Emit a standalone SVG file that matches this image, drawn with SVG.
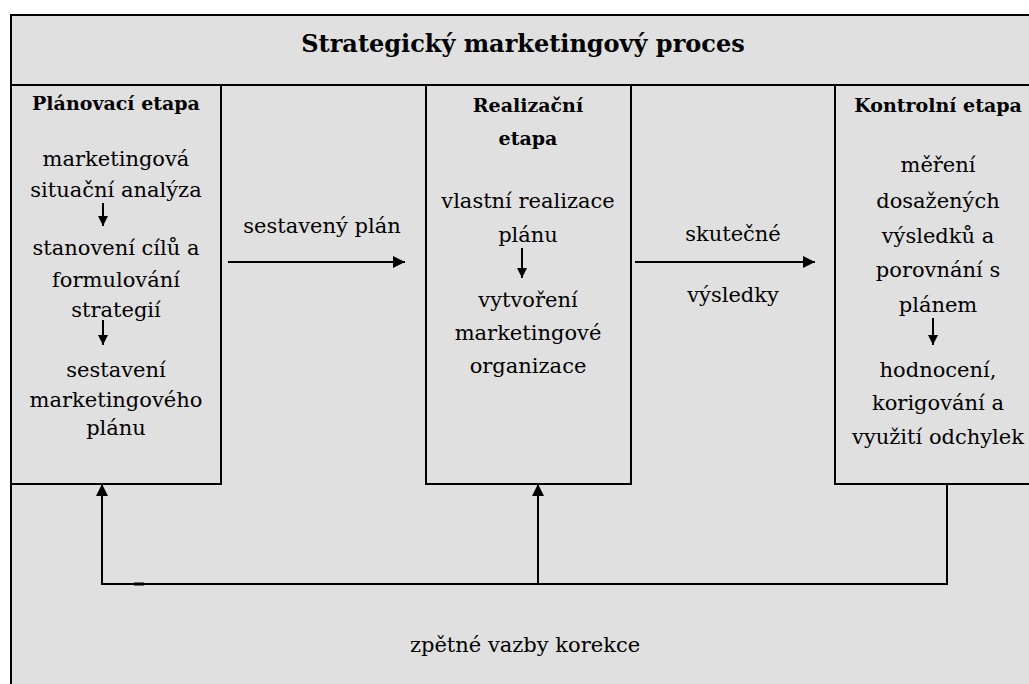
<svg xmlns="http://www.w3.org/2000/svg" width="1029" height="684" viewBox="0 0 1029 684">
<style>
text{font-family:'DejaVu Serif',serif}
.t{font-size:21px;fill:#000;text-anchor:middle}
.b{font-weight:bold;font-size:19px}
.h{font-weight:bold;font-size:24px}
.box{fill:#e0e0e0;stroke:#000;stroke-width:2}
.ln{fill:none;stroke:#000;stroke-width:2}
</style>
<defs>
<marker id="ah" viewBox="0 0 10 10" refX="10" refY="5" markerWidth="6" markerHeight="6" markerUnits="strokeWidth" orient="auto">
<path d="M0,0 L10,5 L0,10 z" fill="#000"/>
</marker>
<marker id="sa" viewBox="0 0 10 10" refX="10" refY="5" markerWidth="6" markerHeight="5" markerUnits="strokeWidth" orient="auto">
<path d="M0,0 L10,5 L0,10 z" fill="#000"/>
</marker>
</defs>
<rect x="0" y="0" width="1029" height="684" fill="#fff"/>
<g id="frame">
<rect class="box" x="11" y="15" width="1040" height="700"/>
<line class="ln" x1="11" y1="85" x2="1029" y2="85"/>
<text class="t h" x="523" y="52">Strategický marketingový proces</text>
<text class="t" x="525" y="652">zpětné vazby korekce</text>
</g>
<g id="planovaci">
<rect class="box" x="11" y="85" width="210" height="399"/>
<text class="t b" x="116" y="110">Plánovací etapa</text>
<text class="t" x="116" y="166">marketingová</text>
<text class="t" x="116" y="197">situační analýza</text>
<text class="t" x="116" y="255">stanovení cílů a</text>
<text class="t" x="116" y="287">formulování</text>
<text class="t" x="116" y="317">strategií</text>
<text class="t" x="116" y="377">sestavení</text>
<text class="t" x="116" y="407">marketingového</text>
<text class="t" x="116" y="435">plánu</text>
<line class="ln" x1="103" y1="203" x2="103" y2="226" marker-end="url(#sa)"/>
<line class="ln" x1="103" y1="320" x2="103" y2="345" marker-end="url(#sa)"/>
</g>
<g id="realizacni">
<rect class="box" x="426" y="85" width="205" height="399"/>
<text class="t b" x="528" y="112">Realizační</text>
<text class="t b" x="528" y="145">etapa</text>
<text class="t" x="528" y="208">vlastní realizace</text>
<text class="t" x="528" y="242">plánu</text>
<text class="t" x="528" y="307">vytvoření</text>
<text class="t" x="528" y="340">marketingové</text>
<text class="t" x="528" y="373">organizace</text>
<line class="ln" x1="522" y1="248" x2="522" y2="278" marker-end="url(#sa)"/>
</g>
<g id="kontrolni">
<rect class="box" x="835" y="85" width="220" height="399"/>
<text class="t b" x="938" y="112">Kontrolní etapa</text>
<text class="t" x="938" y="172">měření</text>
<text class="t" x="938" y="208">dosažených</text>
<text class="t" x="938" y="243">výsledků a</text>
<text class="t" x="938" y="277">porovnání s</text>
<text class="t" x="938" y="312">plánem</text>
<text class="t" x="938" y="377">hodnocení,</text>
<text class="t" x="938" y="410">korigování a</text>
<text class="t" x="938" y="444">využití odchylek</text>
<line class="ln" x1="933" y1="318" x2="933" y2="345" marker-end="url(#sa)"/>
</g>
<g id="connectors">
<line class="ln" x1="228" y1="262" x2="405" y2="262" marker-end="url(#ah)"/>
<text class="t" x="322" y="233">sestavený plán</text>
<line class="ln" x1="635" y1="262" x2="815" y2="262" marker-end="url(#ah)"/>
<text class="t" x="733" y="241">skutečné</text>
<text class="t" x="733" y="302">výsledky</text>
<polyline class="ln" points="947,484 947,584 102,584"/>
<line class="ln" x1="102" y1="585" x2="102" y2="484" marker-end="url(#ah)"/>
<line class="ln" x1="538" y1="585" x2="538" y2="484" marker-end="url(#ah)"/>
<line x1="134" y1="584" x2="144" y2="584" stroke="#000" stroke-width="3"/>
</g>
</svg>
